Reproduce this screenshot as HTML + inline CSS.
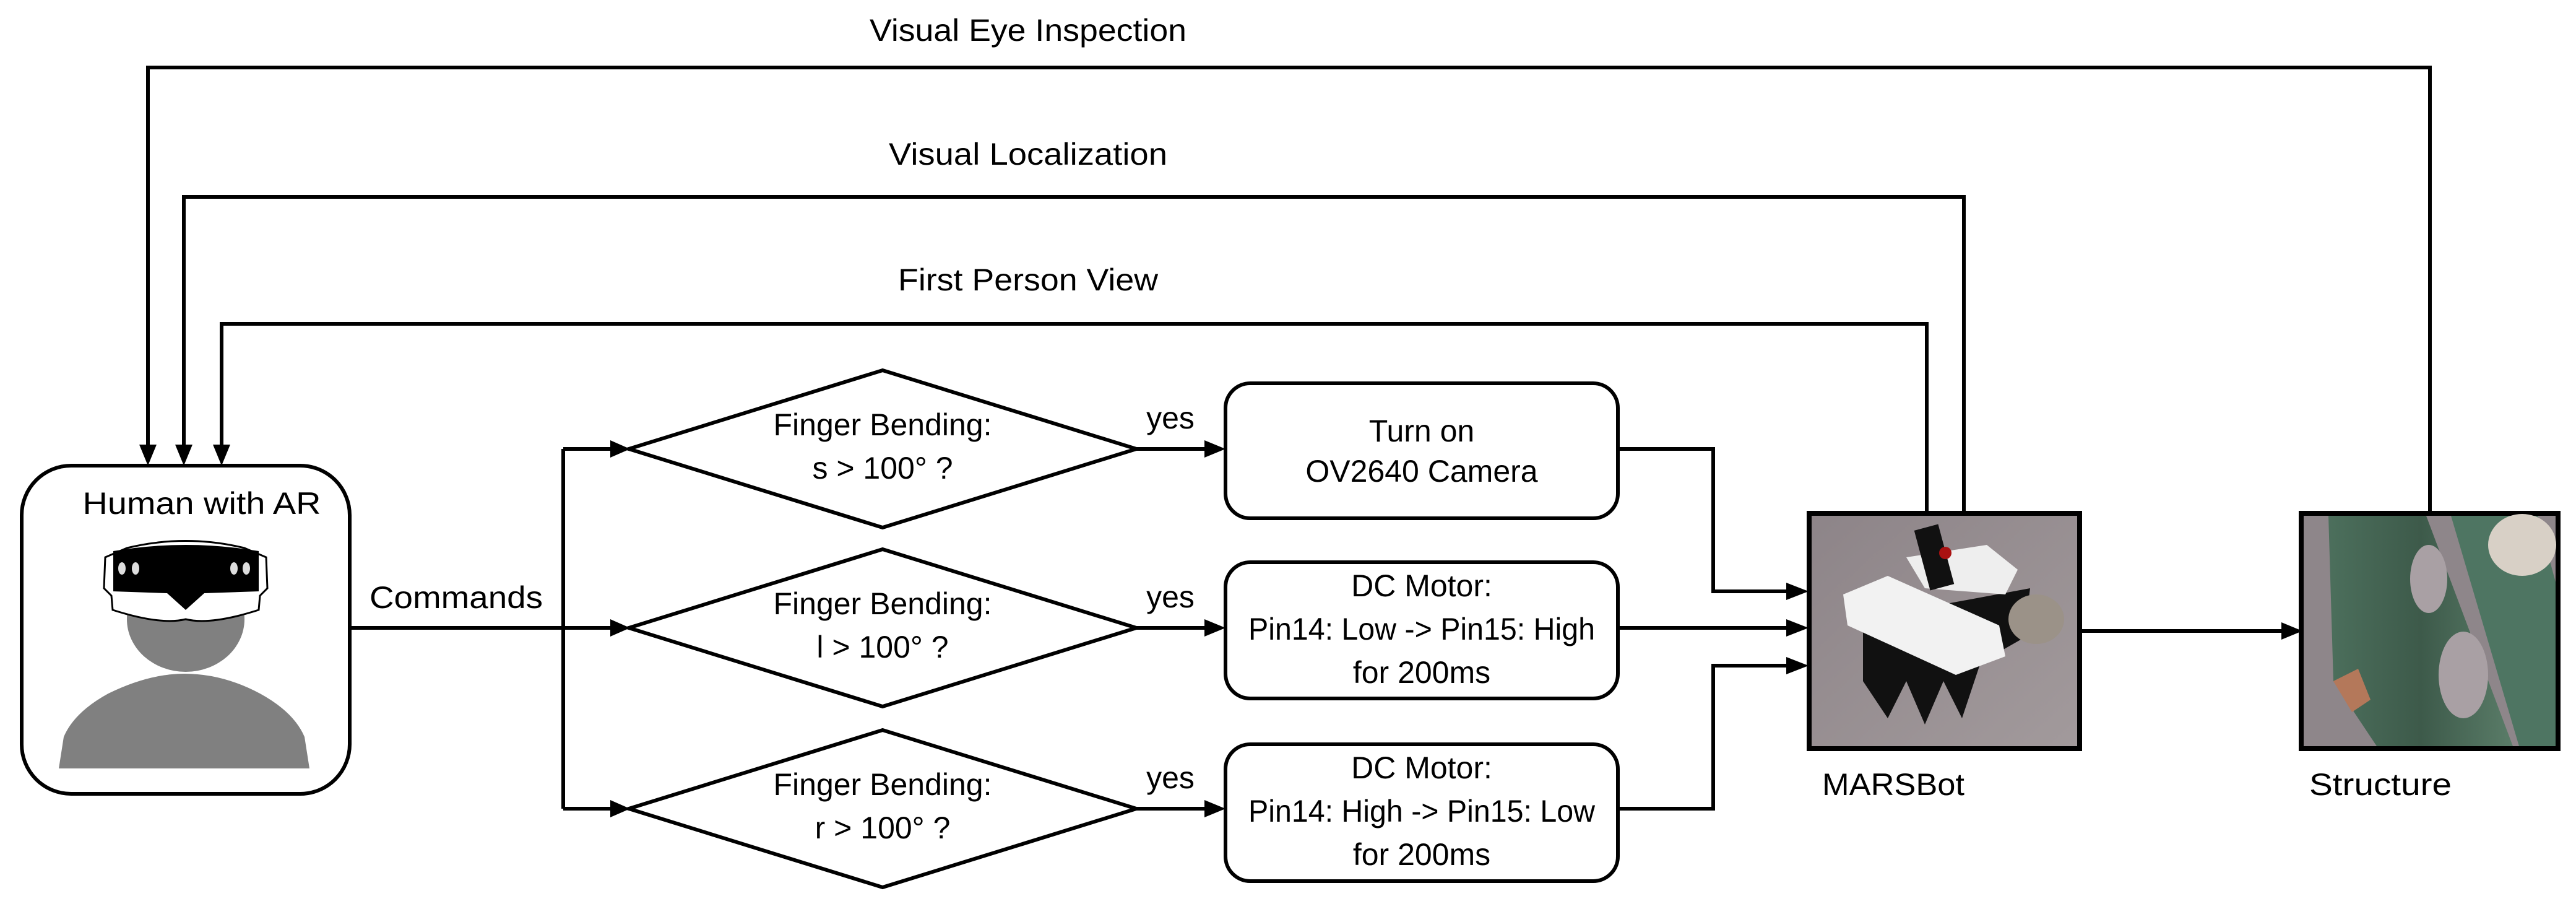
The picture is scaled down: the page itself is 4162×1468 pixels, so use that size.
<!DOCTYPE html>
<html><head><meta charset="utf-8"><style>html,body{margin:0;padding:0;background:#fff}svg{display:block}</style></head>
<body>
<svg width="4162" height="1468" viewBox="0 0 4162 1468" xmlns="http://www.w3.org/2000/svg" font-family="Liberation Sans, sans-serif" fill="#000">
<defs>
<marker id="a" markerWidth="10" markerHeight="10" refX="9" refY="5" orient="auto" markerUnits="userSpaceOnUse" viewBox="0 0 10 10">
</marker>
<linearGradient id="carpet" x1="0" y1="0" x2="1" y2="1"><stop offset="0" stop-color="#8d8488"/><stop offset="1" stop-color="#a29a9c"/></linearGradient>
<linearGradient id="green" x1="0" y1="0" x2="1" y2="0"><stop offset="0" stop-color="#4c6f5c"/><stop offset="0.5" stop-color="#3d5a4a"/><stop offset="1" stop-color="#5a7c68"/></linearGradient>
</defs>
<g stroke="#000" stroke-width="6" fill="none">
<!-- feedback lines -->
<polyline points="239,722 239,109 3926,109 3926,831"/>
<polyline points="297,722 297,318 3173,318 3173,831"/>
<polyline points="358,722 358,523 3113,523 3113,831"/>
<!-- human box -->
<rect x="35" y="752" width="530" height="530" rx="80" ry="80"/>
<!-- commands -->
<line x1="565" y1="1014" x2="990" y2="1014"/>
<line x1="910" y1="725" x2="910" y2="1306"/>
<line x1="910" y1="725" x2="990" y2="725"/>
<line x1="910" y1="1306" x2="990" y2="1306"/>
<!-- diamonds -->
<polygon points="1016,725 1426,598 1836,725 1426,852"/>
<polygon points="1016,1014 1426,887 1836,1014 1426,1141"/>
<polygon points="1016,1306 1426,1179 1836,1306 1426,1433"/>
<line x1="1836" y1="725" x2="1950" y2="725"/>
<line x1="1836" y1="1014" x2="1950" y2="1014"/>
<line x1="1836" y1="1306" x2="1950" y2="1306"/>
<!-- boxes -->
<rect x="1980" y="619" width="634" height="218" rx="40"/>
<rect x="1980" y="908" width="634" height="220" rx="40"/>
<rect x="1980" y="1202" width="634" height="221" rx="40"/>
<polyline points="2614,725 2768,725 2768,955 2890,955"/>
<line x1="2614" y1="1014" x2="2890" y2="1014"/>
<polyline points="2614,1306 2768,1306 2768,1075 2890,1075"/>
<line x1="3363" y1="1019" x2="3690" y2="1019"/>
</g>
<!-- arrowheads -->
<g fill="#000">
<polygon points="225,718 253,718 239,752"/>
<polygon points="283,718 311,718 297,752"/>
<polygon points="344,718 372,718 358,752"/>
<polygon points="986,711 986,739 1018,725"/>
<polygon points="986,1000 986,1028 1018,1014"/>
<polygon points="986,1292 986,1320 1018,1306"/>
<polygon points="1946,711 1946,739 1980,725"/>
<polygon points="1946,1000 1946,1028 1980,1014"/>
<polygon points="1946,1292 1946,1320 1980,1306"/>
<polygon points="2886,941 2886,969 2922,955"/>
<polygon points="2886,1000 2886,1028 2922,1014"/>
<polygon points="2886,1061 2886,1089 2922,1075"/>
<polygon points="3686,1005 3686,1033 3720,1019"/>
</g>
<!-- human icon -->
<path d="M95,1241 L103,1190 Q120,1150 175,1120 Q240,1088 298,1088 Q360,1088 420,1120 Q475,1150 492,1190 L500,1241 Z" fill="#808080"/>
<ellipse cx="300" cy="1000" rx="95" ry="85" fill="#808080"/>
<path d="M205,885 Q300,862 395,885 L430,900 L432,950 L420,962 L418,985 Q340,1010 300,1000 Q260,1010 182,985 L180,962 L168,950 L170,900 Z" fill="#fff" stroke="#000" stroke-width="3"/>
<path d="M183,890 Q300,870 418,890 L418,955 L330,958 L300,985 L270,958 L183,955 Z" fill="#000"/>
<ellipse cx="197" cy="918" rx="6" ry="10" fill="#ddd"/><ellipse cx="219" cy="918" rx="6" ry="10" fill="#ddd"/>
<ellipse cx="378" cy="918" rx="6" ry="10" fill="#ddd"/><ellipse cx="398" cy="918" rx="6" ry="10" fill="#ddd"/>
<!-- MARSBot photo -->
<rect x="2923" y="829" width="437" height="380" fill="url(#carpet)" stroke="#000" stroke-width="8"/>
<path d="M3010,1000 L3010,1100 L3050,1160 L3080,1100 L3110,1170 L3140,1100 L3170,1160 L3200,1070 L3270,1030 L3280,950 Z" fill="#111"/>
<path d="M2978,960 L3050,930 L3230,1010 L3240,1060 L3160,1090 L2985,1010 Z" fill="#f2f2f2"/>
<path d="M3080,900 L3210,880 L3260,920 L3240,960 L3110,950 Z" fill="#eee"/>
<rect x="3105" y="850" width="40" height="100" fill="#111" transform="rotate(-15 3125 900)"/>
<circle cx="3143" cy="893" r="10" fill="#a11"/>
<ellipse cx="3290" cy="1000" rx="45" ry="40" fill="#9b9288"/>
<!-- Structure photo -->
<rect x="3718" y="829" width="415" height="380" fill="#8e868a" stroke="#000" stroke-width="8"/>
<path d="M3762,833 L3920,833 L4060,1205 L3840,1205 L3770,1100 Z" fill="url(#green)"/>
<path d="M3960,833 L4100,833 L4129,940 L4129,1205 L4070,1205 Z" fill="#4e7562"/>
<ellipse cx="3924" cy="935" rx="30" ry="55" fill="#a9a0a4"/>
<ellipse cx="3980" cy="1090" rx="40" ry="70" fill="#a9a0a4"/>
<ellipse cx="4075" cy="880" rx="55" ry="50" fill="#d8d0c6"/>
<path d="M3770,1100 L3810,1080 L3830,1130 L3800,1150 Z" fill="#b4785a"/>
<!-- text -->
<g font-size="50" text-anchor="middle">
<text x="1661" y="66" textLength="512" lengthAdjust="spacingAndGlyphs">Visual Eye Inspection</text>
<text x="1661" y="266" textLength="450" lengthAdjust="spacingAndGlyphs">Visual Localization</text>
<text x="1661" y="469" textLength="420" lengthAdjust="spacingAndGlyphs">First Person View</text>
<text x="326" y="830" textLength="385" lengthAdjust="spacingAndGlyphs">Human with AR</text>
<text x="737" y="982" textLength="280" lengthAdjust="spacingAndGlyphs">Commands</text>
<text x="1426" y="703">Finger Bending:</text>
<text x="1426" y="773">s &gt; 100° ?</text>
<text x="1426" y="992">Finger Bending:</text>
<text x="1426" y="1062">l &gt; 100° ?</text>
<text x="1426" y="1284">Finger Bending:</text>
<text x="1426" y="1354">r &gt; 100° ?</text>
<text x="1891" y="692">yes</text>
<text x="1891" y="981">yes</text>
<text x="1891" y="1273">yes</text>
<text x="2297" y="713">Turn on</text>
<text x="2297" y="778">OV2640 Camera</text>
<text x="2297" y="963">DC Motor:</text>
<text x="2297" y="1033" textLength="560" lengthAdjust="spacingAndGlyphs">Pin14: Low -&gt; Pin15: High</text>
<text x="2297" y="1103">for 200ms</text>
<text x="2297" y="1257">DC Motor:</text>
<text x="2297" y="1327" textLength="560" lengthAdjust="spacingAndGlyphs">Pin14: High -&gt; Pin15: Low</text>
<text x="2297" y="1397">for 200ms</text>
</g>
<g font-size="50">
<text x="2944" y="1284" textLength="230" lengthAdjust="spacingAndGlyphs">MARSBot</text>
<text x="3731" y="1284" textLength="230" lengthAdjust="spacingAndGlyphs">Structure</text>
</g>
</svg>
</body></html>
